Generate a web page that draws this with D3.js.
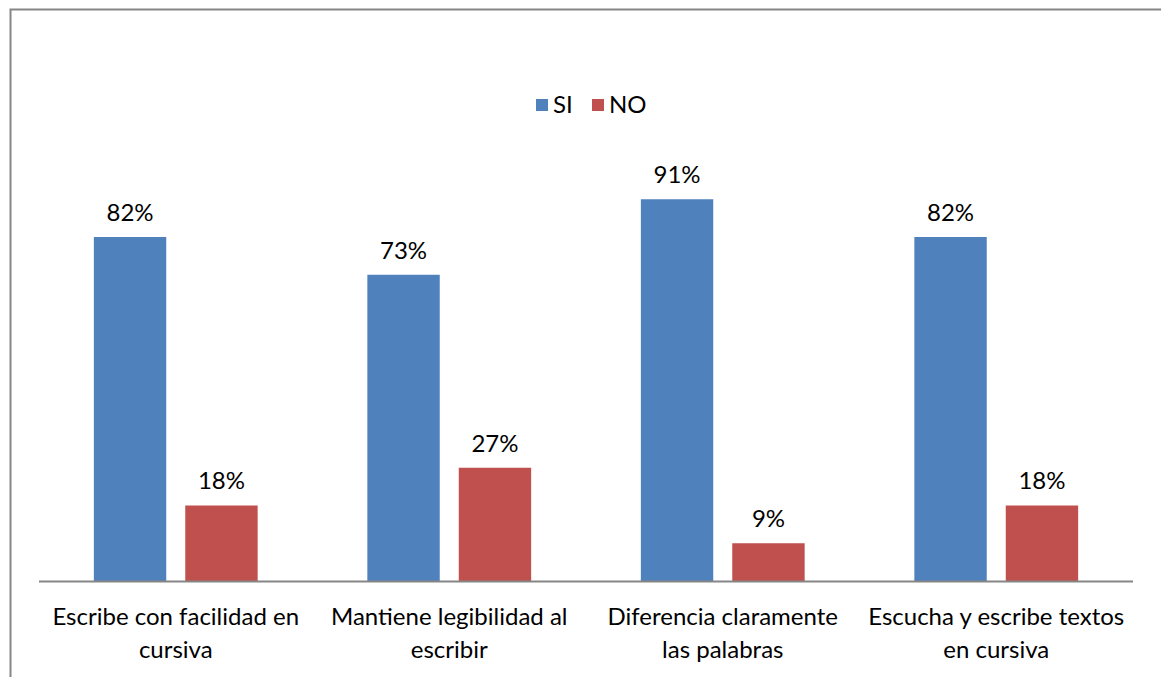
<!DOCTYPE html>
<html><head><meta charset="utf-8">
<script src="https://cdn.jsdelivr.net/npm/d3@7"></script>
<style>body{margin:0;background:#fff}svg{display:block}text{font-family:Lato,"Open Sans",sans-serif;fill:#000}</style>
</head><body>
<script>
const categories = [["Escribe con facilidad en","cursiva"],["Mantiene legibilidad al","escribir"],["Diferencia claramente","las palabras"],["Escucha y escribe textos","en cursiva"]];
const seriesNames = ["SI","NO"];
const siValues = [82,73,91,82];
const noValues = [18,27,9,18];
const colors = ["#4F81BD","#C0504D"];

const W=1161,H=677;
const FS=24;
const svg=d3.select("body").append("svg").attr("width",W).attr("height",H);
svg.append("path").attr("d","M10.5,"+H+"V9.5H"+W).attr("fill","none").attr("stroke","#868686").attr("stroke-width",2);

const x0=d3.scaleBand().domain(d3.range(categories.length)).range([39,1133]).paddingInner(0).paddingOuter(0);
const x1=d3.scaleBand().domain([0,1]).range([0,x0.bandwidth()]).paddingInner(0.208).paddingOuter(0.6);
const y=d3.scaleLinear().domain([0,100]).range([581,161.5]);

const data=[siValues,noValues];
const g=svg.append("g");
data.forEach((vals,s)=>{
  vals.forEach((v,i)=>{
    const bx=x0(i)+x1(s);
    g.append("rect").attr("x",bx).attr("y",y(v)).attr("width",x1.bandwidth()).attr("height",y(0)-y(v)).attr("fill",colors[s]);
    g.append("text").attr("x",bx+x1.bandwidth()/2).attr("y",y(v)-16).attr("text-anchor","middle").attr("font-size",FS).text(v+"%");
  });
});
svg.append("line").attr("x1",39).attr("x2",1133).attr("y1",581.5).attr("y2",581.5).attr("stroke","#868686").attr("stroke-width",2);
categories.forEach((c,i)=>{
  const t=svg.append("text").attr("text-anchor","middle").attr("font-size",FS);
  c.forEach((line,j)=>t.append("tspan").attr("x",x0(i)+x0.bandwidth()/2).attr("y",625+j*33).text(line));
});
const leg=svg.append("g");
const lx=[536,592];
seriesNames.forEach((n,s)=>{
  leg.append("rect").attr("x",lx[s]).attr("y",99).attr("width",12).attr("height",12).attr("fill",colors[s]);
  leg.append("text").attr("x",lx[s]+17).attr("y",113).attr("font-size",FS).text(n);
});
</script>
</body></html>
